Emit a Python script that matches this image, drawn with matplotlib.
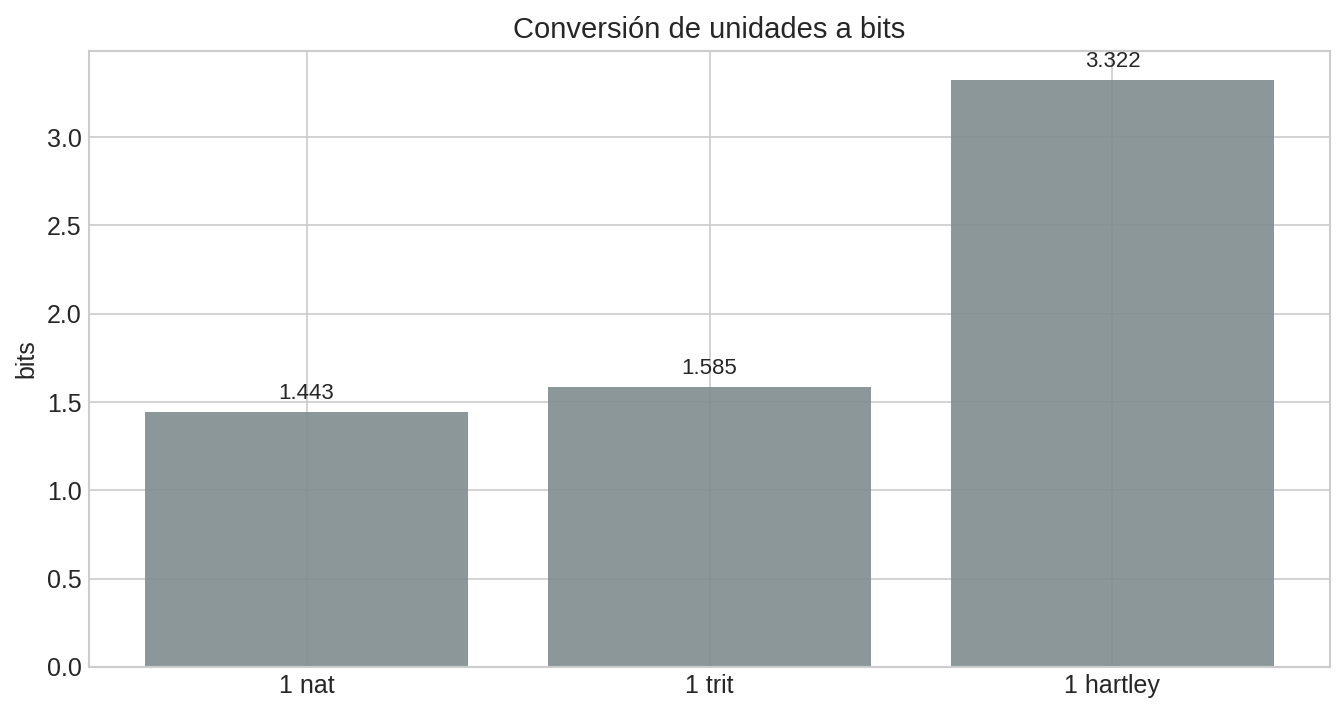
import matplotlib
matplotlib.use("Agg")
import matplotlib.pyplot as plt

units = ["1 nat", "1 trit", "1 hartley"]
bits = [1.443, 1.585, 3.322]
labels = ["1.443", "1.585", "3.322"]

plt.style.use("seaborn-v0_8-whitegrid")
plt.rcParams["font.family"] = ["Liberation Sans", "DejaVu Sans"]

fig, ax = plt.subplots(figsize=(1344 / 150, 713 / 150), dpi=150)
fig.subplots_adjust(left=89 / 1344, right=1330 / 1344, top=1 - 51 / 713, bottom=1 - 667 / 713)

bars = ax.bar(units, bits, color="#7f8c8d", alpha=0.9, width=0.8)
for b, txt in zip(bars, labels):
    ax.annotate(txt, (b.get_x() + b.get_width() / 2, b.get_height()),
                xytext=(0, 4), textcoords="offset points",
                ha="center", va="bottom", fontsize=10.7, color="#262626")

ax.set_ylabel("bits", fontsize=12)
ax.set_title("Conversión de unidades a bits", fontsize=14)
ax.tick_params(labelsize=12)
for s in ax.spines.values():
    s.set_visible(True)
    s.set_color("#cccccc")
ax.set_axisbelow(True)

fig.savefig("out.png", dpi=150)
